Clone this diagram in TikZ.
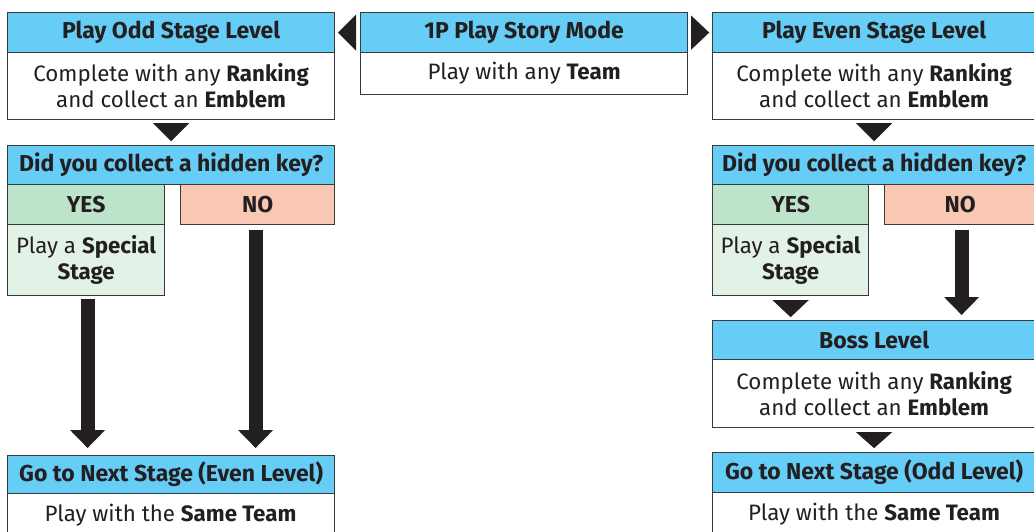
\documentclass[tikz,border=0pt]{standalone}
\usepackage{fontspec}
\setmainfont{Fira Sans}
\usetikzlibrary{arrows.meta,calc}
\definecolor{hdrc}{HTML}{66CDF6}
\definecolor{yesc}{HTML}{BEE3CB}
\definecolor{spc}{HTML}{E2F2E7}
\definecolor{noc}{HTML}{F9C8B2}
\definecolor{bordc}{HTML}{3A3A3A}
\definecolor{ink}{HTML}{231F20}
\begin{document}
\begin{tikzpicture}[x=1pt,y=-1pt,
  box/.style={draw=bordc, line width=1.2pt, anchor=north west, inner sep=0pt, align=center,
    text=ink, font=\fontsize{22.3}{26}\selectfont},
  hdr/.style={box, fill=hdrc, font=\fontsize{23}{26}\selectfont\bfseries},
  body/.style={box, fill=white},
  yesbox/.style={box, fill=yesc, font=\fontsize{23}{26}\selectfont\bfseries},
  nobox/.style={box, fill=noc, font=\fontsize{23}{26}\selectfont\bfseries},
  spbox/.style={box, fill=spc},
  tri/.style={fill=ink},
  bigarr/.style={draw=ink, line width=14pt, -{Triangle[width=34pt,length=18pt]}}
]
\useasboundingbox (0,0) rectangle (1034,532);
\fill[white] (0,0) rectangle (1034,532);

% top row
\node[hdr, minimum width=327pt, minimum height=40pt] (lh) at (7,12) {Play Odd Stage Level};
\node[body, minimum width=327pt, minimum height=67pt] (lb) at (7,52) {Complete with any \textbf{Ranking}\\and collect an \textbf{Emblem}};
\node[hdr, minimum width=327pt, minimum height=40pt] (mh) at (360,12) {1P Play Story Mode};
\node[body, minimum width=327pt, minimum height=42pt] (mb) at (360,52) {Play with any \textbf{Team}};
\node[hdr, minimum width=323pt, minimum height=40pt] (rh) at (712,12) {Play Even Stage Level};
\node[body, minimum width=323pt, minimum height=67pt] (rb) at (712,52) {Complete with any \textbf{Ranking}\\and collect an \textbf{Emblem}};

% side triangles
\fill[tri] ($(mh.west)+(-22,0)$) -- ($(mh.west)+(-4,-18)$) -- ($(mh.west)+(-4,18)$) -- cycle;
\fill[tri] ($(mh.east)+(21,0)$) -- ($(mh.east)+(3,-17)$) -- ($(mh.east)+(3,17)$) -- cycle;

% left column
\node[hdr, minimum width=327pt, minimum height=39pt] (lq) at (7,145) {Did you collect a hidden key?};
\node[yesbox, minimum width=157pt, minimum height=40pt] (lyes) at (7,184) {YES};
\node[nobox, minimum width=154pt, minimum height=40pt] (lno) at (180,184) {NO};
\node[spbox, minimum width=157pt, minimum height=71pt] (lsp) at (7,224) {Play a \textbf{Special}\\\textbf{Stage}};
\node[hdr, minimum width=327pt, minimum height=38pt] (lnh) at (7,455) {Go to Next Stage (Even Level)};
\node[body, minimum width=327pt, minimum height=45pt, text depth=0pt] (lnb) at (7,493) {};
\node[text=ink, font=\fontsize{22.3}{26}\selectfont, anchor=base] (lnbt) at (170.5,521) {Play with the \textbf{Same Team}};

\fill[tri] ($(lb.south)+(-18,3)$) -- ($(lb.south)+(18,3)$) -- ($(lb.south)+(0,21)$) -- cycle;
\draw[bigarr, shorten <=3pt, shorten >=7pt] ([xshift=1.5pt]lsp.south) -- ([xshift=1.5pt]lsp.south |- lnh.north);
\draw[bigarr, shorten <=5pt, shorten >=7pt] ([xshift=-2pt]lno.south) -- ([xshift=-2pt]lno.south |- lnh.north);

% right column
\node[hdr, minimum width=323pt, minimum height=39pt] (rq) at (712,145) {Did you collect a hidden key?};
\node[yesbox, minimum width=156pt, minimum height=40pt] (ryes) at (712,184) {YES};
\node[nobox, minimum width=151pt, minimum height=40pt] (rno) at (884,184) {NO};
\node[spbox, minimum width=156pt, minimum height=71pt] (rsp) at (712,224) {Play a \textbf{Special}\\\textbf{Stage}};
\node[hdr, minimum width=323pt, minimum height=39pt] (bh) at (712,320) {Boss Level};
\node[body, minimum width=323pt, minimum height=68pt] (bb) at (712,359) {Complete with any \textbf{Ranking}\\and collect an \textbf{Emblem}};
\node[hdr, minimum width=323pt, minimum height=40pt] (rnh) at (712,452) {Go to Next Stage (Odd Level)};
\node[body, minimum width=323pt, minimum height=45pt] (rnb) at (712,492) {};
\node[text=ink, font=\fontsize{22.3}{26}\selectfont, anchor=base] (rnbt) at (874,520) {Play with the \textbf{Same Team}};

\fill[tri] ($(rb.south)+(-18,3)$) -- ($(rb.south)+(18,3)$) -- ($(rb.south)+(0,21)$) -- cycle;
\fill[tri] ($(rsp.south)+(-18,4)$) -- ($(rsp.south)+(18,4)$) -- ($(rsp.south)+(0,21)$) -- cycle;
\draw[bigarr, shorten <=5pt, shorten >=5pt] ([xshift=1.5pt]rno.south) -- ([xshift=1.5pt]rno.south |- bh.north);
\fill[tri] ($(bb.south)+(-18,4)$) -- ($(bb.south)+(18,4)$) -- ($(bb.south)+(0,20)$) -- cycle;
\end{tikzpicture}
\end{document}
